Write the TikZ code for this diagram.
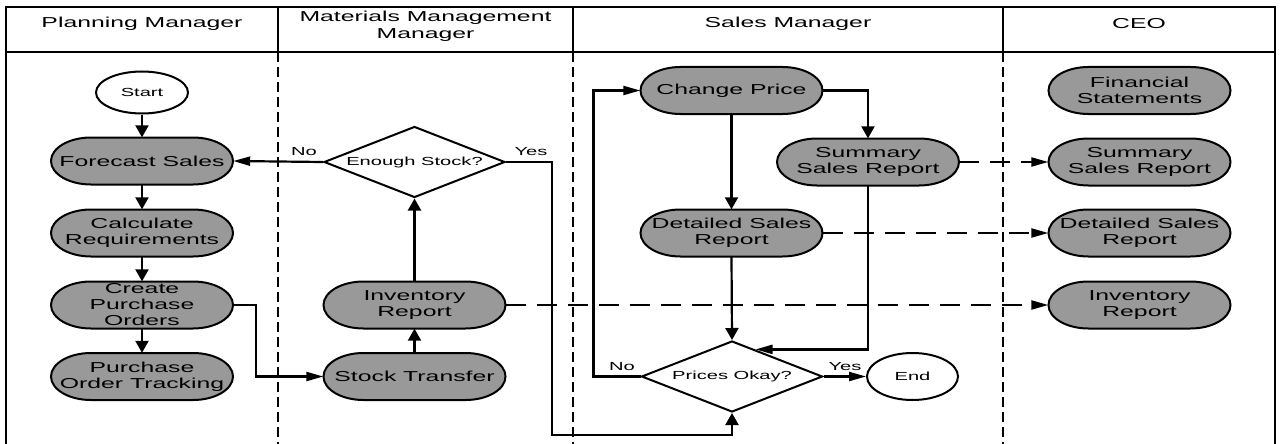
\documentclass[tikz,border=0pt]{standalone}
\usepackage{fontspec}
\setmainfont{Liberation Sans}[FakeStretch=1.72]
\usetikzlibrary{shapes.geometric,arrows.meta}
\pgfdeclarelayer{bg}
\pgfsetlayers{bg,main}
\definecolor{pillgray}{RGB}{153,153,153}
\begin{document}
\begin{tikzpicture}[x=1pt,y=-1pt,
  lane/.style={line width=2.5pt},
  lanedash/.style={line width=2.2pt,dash pattern=on 10pt off 5pt},
  proc/.style={minimum width=182pt,minimum height=47pt,inner sep=0pt,align=center,font=\fontsize{14.4}{16}\selectfont},
  pill/.style={draw=black,fill=pillgray,line width=2pt},
  dec/.style={diamond,aspect=2.55,draw,line width=2pt,fill=white,minimum width=181pt,minimum height=71pt,inner sep=0pt,font=\fontsize{11.7}{13}\selectfont},
  term/.style={ellipse,draw,line width=2pt,fill=white,inner sep=0pt,font=\fontsize{11.7}{13}\selectfont},
  conn/.style={line width=2.2pt},
  va/.style={conn,-{Triangle[length=12pt,width=13pt]}},
  ha/.style={conn,-{Triangle[length=17pt,width=9pt]}},
  dashc/.style={ha,dash pattern=on 20pt off 11pt},
  lbl/.style={font=\fontsize{11.7}{13}\selectfont,inner sep=0pt},
  head/.style={font=\fontsize{14.4}{17}\selectfont,align=center,inner sep=0pt}]
\useasboundingbox (0,0) rectangle (1282,444);
% lanes
\draw[lane] (6,444) -- (6,7) -- (1275,7) -- (1275,444);
\draw[lane] (6,52) -- (1275,52);
\draw[lane] (278,7) -- (278,52);
\draw[lane] (573,7) -- (573,52);
\draw[lane] (1003,7) -- (1003,52);
\draw[lanedash] (278,52) -- (278,444);
\draw[lanedash] (573,52) -- (573,444);
\draw[lanedash] (1003,52) -- (1003,444);
% headers
\node[head] (h1) at (142,24) {Planning Manager};
\node[head] (h2) at (425.5,26) {Materials Management\\Manager};
\node[head] (h3) at (788,24) {Sales Manager};
\node[head] (h4) at (1139,24) {CEO};
% nodes
\node[term,minimum width=92pt,minimum height=42pt] (start) at (142,92.5) {Start};
\node[proc] (fs) at (142,161) {Forecast Sales};
\node[proc] (cr) at (142,233) {Calculate\\Requirements};
\node[proc] (cpo) at (142,305) {Create\\Purchase\\Orders};
\node[proc] (pot) at (142,376.5) {Purchase\\Order Tracking};
\node[dec] (es) at (414.5,162) {Enough Stock?};
\node[proc] (inv) at (414.5,305) {Inventory\\Report};
\node[proc] (st) at (414.5,376.5) {Stock Transfer};
\node[proc] (cp) at (731.5,90.5) {Change Price};
\node[proc] (ssr) at (868,162) {Summary\\Sales Report};
\node[proc] (dsr) at (731.5,233) {Detailed Sales\\Report};
\node[dec] (pok) at (732,376.5) {Prices Okay?};
\node[term,minimum width=91pt,minimum height=47pt] (end) at (912.5,376.5) {End};
\node[proc] (fin) at (1139.5,90.5) {Financial\\Statements};
\node[proc] (ssrc) at (1139.5,162) {Summary\\Sales Report};
\node[proc] (dsrc) at (1139.5,233) {Detailed Sales\\Report};
\node[proc] (invc) at (1139.5,305) {Inventory\\Report};
% pill shapes behind text
\begin{pgfonlayer}{bg}
\foreach \n in {fs,cr,cpo,pot,inv,st,cp,ssr,dsr,fin,ssrc,dsrc,invc}
  \draw[pill] ([shift={(-51pt,23.5pt)}]\n.center) -- ([shift={(51pt,23.5pt)}]\n.center)
    arc[start angle=90,end angle=-90,x radius=40pt,y radius=23.5pt]
    -- ([shift={(-51pt,-23.5pt)}]\n.center)
    arc[start angle=270,end angle=90,x radius=40pt,y radius=23.5pt] -- cycle;
\end{pgfonlayer}
% connectors
\draw[va] (start.south) -- (fs.north);
\draw[va] (fs.south) -- (cr.north);
\draw[va] (cr.south) -- (cpo.north);
\draw[va] (cpo.south) -- (pot.north);
\draw[ha] (cpo.east) -- ++(23,0) |- (st.west);
\draw[va] (st.north) -- (inv.south);
\draw[va] (inv.north) -- (es.south);
\draw[ha] (es.west) -- (fs.east);
\draw[va] (es.east) -- ++(46,0) -- ++(0,273) -| (pok.south);
\draw[va] (cp.south) -- (dsr.north);
\draw[va] (cp.east) -| (ssr.north);
\draw[ha] (ssr.south) |- (pok.49);
\draw[va] (dsr.south) -- (pok.north);
\draw[ha] (pok.west) -- ++(-47,0) |- (cp.west);
\draw[ha] (pok.east) -- (end.west);
\draw[dashc] (ssr.east) -- (ssrc.west);
\draw[dashc] (dsr.east) -- (dsrc.west);
\draw[dashc] (inv.east) -- (invc.west);
% labels
\node[lbl] (lno1) at (304,152) {No};
\node[lbl] (lyes1) at (531,152) {Yes};
\node[lbl] (lno2) at (622,367) {No};
\node[lbl] (lyes2) at (845,367) {Yes};
\end{tikzpicture}
\end{document}
